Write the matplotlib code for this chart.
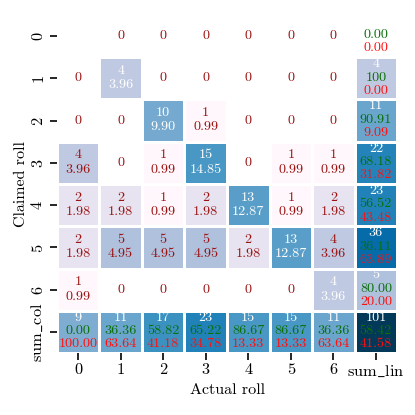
"""
Confusion matrix of claimed vs actual dice rolls, with row/column sums
and percentages, drawn in the pretty-confusion-matrix style.
"""

import numpy as np
import matplotlib
matplotlib.use("Agg")
import matplotlib.pyplot as plt
from matplotlib.colors import LogNorm

plt.rcParams["font.family"] = "serif"
plt.rcParams["font.serif"] = ["cmr10"]
plt.rcParams["mathtext.fontset"] = "cm"
plt.rcParams["axes.formatter.use_mathtext"] = True

# rows = claimed roll, cols = actual roll
CLAIMED = ["0", "1", "2", "3", "4", "5", "6"]
ACTUAL = ["0", "1", "2", "3", "4", "5", "6"]
COUNTS = [
    [0, 0, 0, 0, 0, 0, 0],
    [0, 4, 0, 0, 0, 0, 0],
    [0, 0, 10, 1, 0, 0, 0],
    [4, 0, 1, 15, 0, 1, 1],
    [2, 2, 1, 2, 13, 1, 2],
    [2, 5, 5, 5, 2, 13, 4],
    [1, 0, 0, 0, 0, 0, 4],
]
X_LABELS = ACTUAL + [r"$\mathrm{sum\_lin}$"]
Y_LABELS = CLAIMED + [r"$\mathrm{sum\_col}$"]

OFF_COLOR = "#9b1414"
GREEN = "#0a700a"
RED = "#ff1010"


def build_full(counts):
    """Append row sums (last column) and column sums (last row)."""
    m = np.array(counts, dtype=float)
    n = m.shape[0]
    full = np.zeros((n + 1, n + 1))
    full[:n, :n] = m
    full[:n, n] = m.sum(axis=1)
    full[n, :n] = m.sum(axis=0)
    full[n, n] = m.sum()
    return full


def plot_matrix(full):
    n = full.shape[0] - 1
    total = full[n, n]
    fig = plt.figure(figsize=(4.15, 4.15), dpi=100)
    ax = fig.add_axes([0.137, 0.149, 0.820, 0.815])

    data = np.ma.masked_equal(full, 0)
    ax.pcolormesh(np.arange(n + 2), np.arange(n + 2), data, cmap="PuBu",
                  norm=LogNorm(vmin=1, vmax=total),
                  edgecolors="white", linewidth=1.0)
    ax.set_xlim(0, n + 1)
    ax.set_ylim(n + 1, 0)

    fs = 10.2
    for i in range(n + 1):
        for j in range(n + 1):
            v = int(full[i, j])
            x = j + 0.5
            if i == n or j == n:
                diag = sum(full[k, k] for k in range(n))
                if i == n and j == n:
                    ok = diag
                elif j == n:
                    ok = full[i, i]
                else:
                    ok = full[j, j]
                pc = ok / v * 100 if v > 0 else 0.0
                pw = 100 - pc if v > 0 else 0.0
                pc_s = "100" if pc == 100 else f"{pc:.2f}"
                pw_s = f"{pw:.2f}"
                ax.text(x, i + 0.16, str(v), color="white", ha="center",
                        va="center", fontsize=fs)
                ax.text(x, i + 0.48, pc_s, color=GREEN, ha="center",
                        va="center", fontsize=fs)
                ax.text(x, i + 0.79, pw_s, color=RED, ha="center",
                        va="center", fontsize=fs)
            else:
                color = "white" if i == j else OFF_COLOR
                if v == 0:
                    ax.text(x, i + 0.5, "0", color=color, ha="center",
                            va="center", fontsize=fs)
                else:
                    ax.text(x, i + 0.32, str(v), color=color, ha="center",
                            va="center", fontsize=fs)
                    ax.text(x, i + 0.66, f"{v / total * 100:.2f}",
                            color=color, ha="center", va="center", fontsize=fs)

    ax.set_xticks(np.arange(n + 1) + 0.5)
    ax.set_xticklabels(X_LABELS, fontsize=11.8)
    ax.set_yticks(np.arange(n + 1) + 0.5)
    ax.set_yticklabels(Y_LABELS, fontsize=11.8, rotation=90, va="center")
    ax.tick_params(length=5, width=1.2)
    ax.tick_params(axis="x", pad=2.5)
    for s in ax.spines.values():
        s.set_visible(False)
    ax.set_xlabel("Actual roll", fontsize=11.5, labelpad=3)
    ax.set_ylabel("Claimed roll", fontsize=11.5, labelpad=1)
    fig.savefig("out.png", dpi=100)


if __name__ == "__main__":
    plot_matrix(build_full(COUNTS))
